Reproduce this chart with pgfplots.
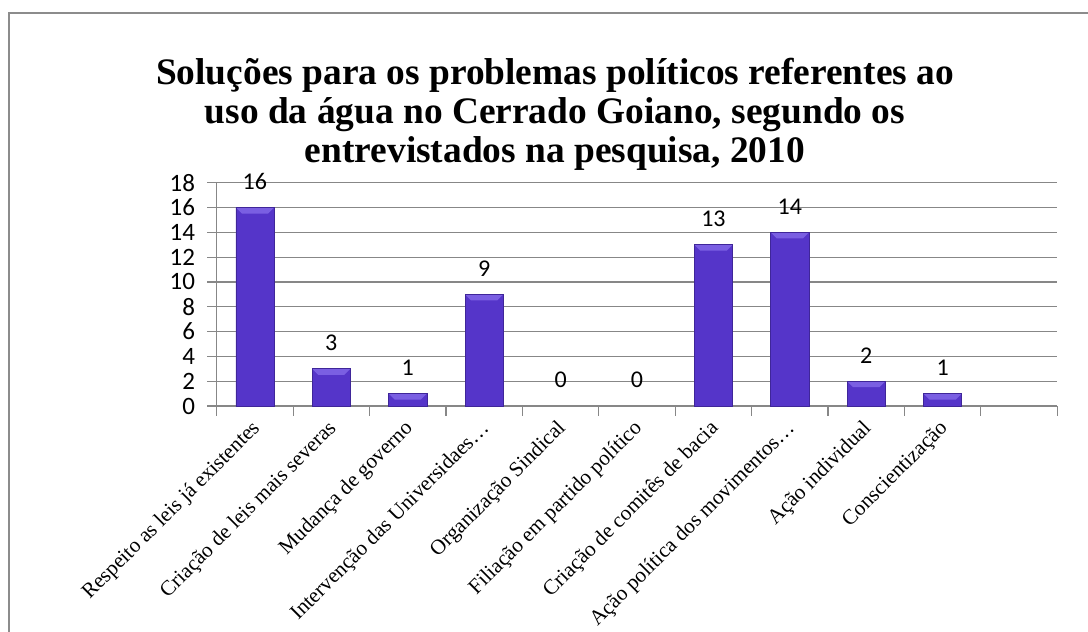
\documentclass[border=0pt]{standalone}
\usepackage{pgfplots}
\pgfplotsset{compat=1.18}
\usepackage{fontspec}
\setmainfont{Liberation Serif}
\newfontfamily\carlito{Carlito}
\definecolor{barmain}{HTML}{5535C9}
\definecolor{bardark}{HTML}{3F2699}
\definecolor{barlight}{HTML}{7A5FE2}
\definecolor{gridgray}{HTML}{878787}
\definecolor{framegray}{HTML}{8C8C8C}
\pgfdeclarehorizontalshading{barshade}{100bp}{color(0bp)=(bardark); color(15bp)=(barmain); color(85bp)=(barmain); color(100bp)=(bardark)}
\newcommand\barbevel{%
  \pgfsetfillcolor{barlight}%
  \pgfpathmoveto{\pgfpointanchor{path picture bounding box}{north west}}%
  \pgfpathlineto{\pgfpointanchor{path picture bounding box}{north east}}%
  \pgfpathlineto{\pgfpointadd{\pgfpointanchor{path picture bounding box}{north east}}{\pgfpoint{-3pt}{-3pt}}}%
  \pgfpathlineto{\pgfpointadd{\pgfpointanchor{path picture bounding box}{north west}}{\pgfpoint{3pt}{-3pt}}}%
  \pgfpathclose
  \pgfusepath{fill}}
\pgfplotsset{mybar/.style={ybar, bar width=0.5, draw=bardark, line width=0.3pt, shade, shading=barshade, path picture={\barbevel}}}

\begin{document}
\begin{tikzpicture}[x=1pt,y=1pt]
\useasboundingbox (0,0) rectangle (544,316);
\draw[framegray, line width=1pt] (4.5,-5) -- (4.5,309.5) -- (560,309.5);
\node[align=center, font=\fontsize{18.7}{19.5}\selectfont\bfseries, anchor=north] at (277.5,290.5)
  {Soluções para os problemas políticos referentes ao\\uso da água no Cerrado Goiano, segundo os\\entrevistados na pesquisa, 2010};
\begin{axis}[at={(108.35pt,113pt)}, anchor=south west, scale only axis,
  width=420.3pt, height=111.65pt,
  xmin=-0.5, xmax=10.5, ymin=0, ymax=18,
  ytick={0,2,...,18},
  xtick={-0.5,0.5,...,10.5},
  x tick label as interval,
  xticklabels={Respeito as leis já existentes, Criação de leis mais severas, Mudança de governo, Intervenção das Universidaes…, Organização Sindical, Filiação em partido político, Criação de comitês de bacia, Ação política dos movimentos…, Ação individual, Conscientização, {}},
  axis x line=bottom, axis y line=left,
  axis line style={-, gridgray, line width=0.6pt},
  tick style={gridgray, line width=0.6pt},
  tick align=outside, major tick length=4.8pt,
  ymajorgrids, major grid style={gridgray, line width=0.6pt},
  /pgf/number format/assume math mode=true,
  yticklabel style={font=\carlito\fontsize{12.5}{14}\selectfont, xshift=-2.5pt},
  xticklabel style={font=\fontsize{10.6}{12}\selectfont, shift={(3.5pt,-2.5pt)}, rotate=45, anchor=east},
]
\addplot[mybar] coordinates {(0,16)};
\addplot[mybar] coordinates {(1,3)};
\addplot[mybar] coordinates {(2,1)};
\addplot[mybar] coordinates {(3,9)};
\addplot[mybar] coordinates {(6,13)};
\addplot[mybar] coordinates {(7,14)};
\addplot[mybar] coordinates {(8,2)};
\addplot[mybar] coordinates {(9,1)};
\addplot[draw=none, nodes near coords, every node near coord/.append style={font=\carlito\fontsize{12}{14}\selectfont, yshift=5.5pt}]
  coordinates {(0,16) (1,3) (2,1) (3,9) (4,0) (5,0) (6,13) (7,14) (8,2) (9,1)};
\end{axis}
\end{tikzpicture}
\end{document}
